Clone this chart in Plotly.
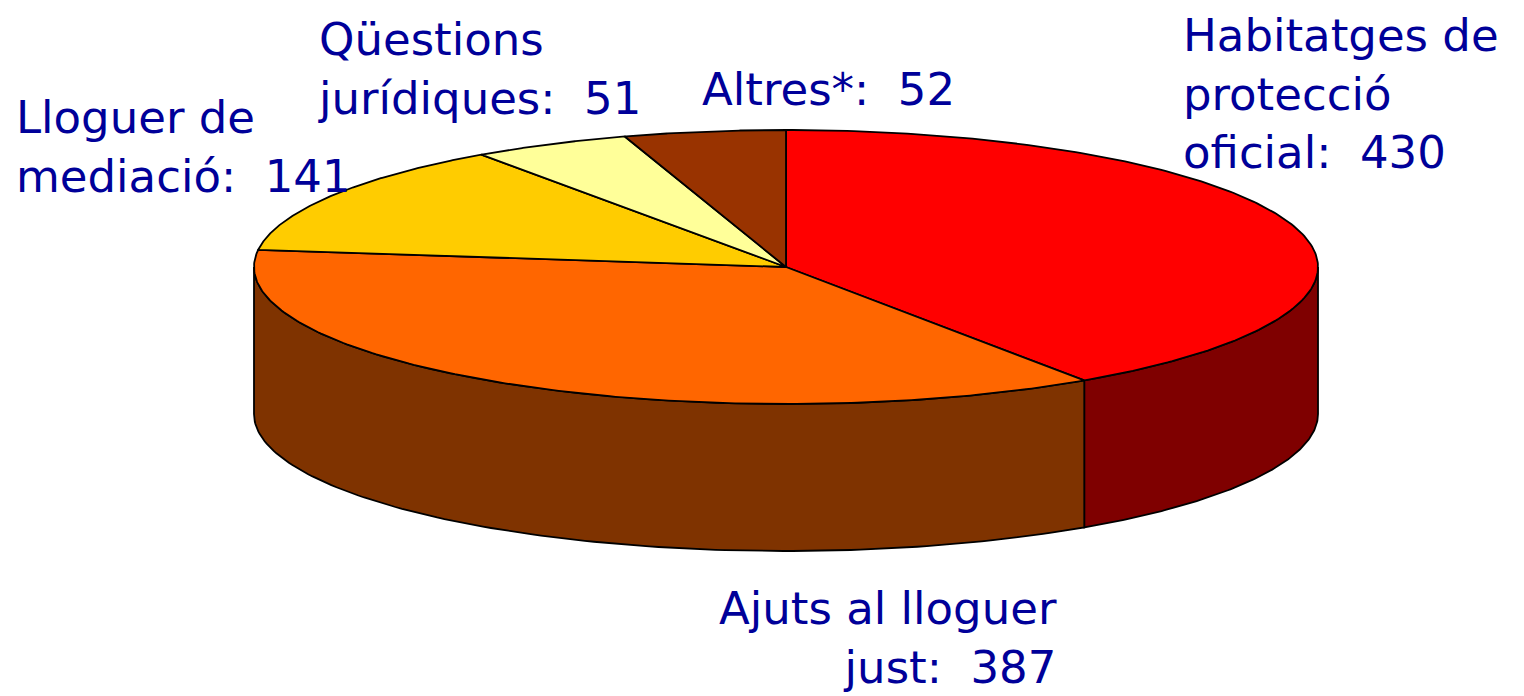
import numpy as np
import plotly.graph_objects as go

# ---- data ----
categories = ["Habitatges de<br>protecció<br>oficial", "Ajuts al lloguer<br>just",
              "Lloguer de<br>mediació", "Qüestions<br>jurídiques", "Altres*"]
values = [430, 387, 141, 51, 52]
top_colors = ["#FF0000", "#FF6600", "#FFCC00", "#FFFF99", "#993300"]

# ---- geometry (pixel space) ----
W, H = 1524, 696
OFF = 8  # browser body margin
cx, cy, rx, ry, depth = 786, 267, 532, 137, 147


def darken(hexc, f=0.5):
    h = hexc.lstrip("#")
    r, g, b = (int(h[i:i + 2], 16) for i in (0, 2, 4))
    return "#%02X%02X%02X" % (int(r * f), int(g * f), int(b * f))


def pt(theta_deg, dy=0.0):
    t = np.radians(theta_deg)
    return cx + rx * np.sin(t), cy - ry * np.cos(t) + dy


total = sum(values)
bounds = np.concatenate([[0], np.cumsum(values) / total * 360.0])

fig = go.Figure()

# side walls (visible front half: 90..270 deg)
for i, v in enumerate(values):
    a, b = bounds[i], bounds[i + 1]
    lo, hi = max(a, 90), min(b, 270)
    if hi <= lo:
        continue
    th = np.linspace(lo, hi, 120)
    xt, yt = pt(th)
    xb, yb = pt(th[::-1], depth)
    xs = np.concatenate([xt, xb, [xt[0]]])
    ys = np.concatenate([yt, yb, [yt[0]]])
    fig.add_trace(go.Scatter(x=xs, y=ys, mode="lines", fill="toself",
                             fillcolor=darken(top_colors[i]),
                             line=dict(color="black", width=1.8),
                             hoverinfo="skip", showlegend=False))

# top wedges
for i, v in enumerate(values):
    a, b = bounds[i], bounds[i + 1]
    th = np.linspace(a, b, 200)
    xa, ya = pt(th)
    xs = np.concatenate([[cx], xa, [cx]])
    ys = np.concatenate([[cy], ya, [cy]])
    fig.add_trace(go.Scatter(x=xs, y=ys, mode="lines", fill="toself",
                             fillcolor=top_colors[i],
                             line=dict(color="black", width=1.8),
                             hoverinfo="skip", showlegend=False))

# labels (pixel positions converted to paper coordinates)
label_pos = [  # x, y, xanchor, align
    (1182, 8, "left", "left"),
    (1058, 581, "right", "right"),
    (15, 90, "left", "left"),
    (317, 12, "left", "left"),
    (701, 62, "left", "left"),
]
for i, (lx, ly, xa, al) in enumerate(label_pos):
    fig.add_annotation(x=(lx - OFF) / (W - OFF), y=1 - (ly - OFF) / (H - OFF),
                       xref="paper", yref="paper", xanchor=xa, yanchor="top",
                       align=al, showarrow=False, borderpad=0,
                       text=f"{categories[i]}:&nbsp; {values[i]}",
                       font=dict(family="DejaVu Sans", size=45, color="#000099"))

fig.update_layout(
    width=W - OFF, height=H - OFF, margin=dict(l=0, r=0, t=0, b=0),
    paper_bgcolor="white", plot_bgcolor="white",
    xaxis=dict(range=[OFF, W], visible=False, fixedrange=True),
    yaxis=dict(range=[H, OFF], visible=False, fixedrange=True),
)
fig.write_html("out.html")
